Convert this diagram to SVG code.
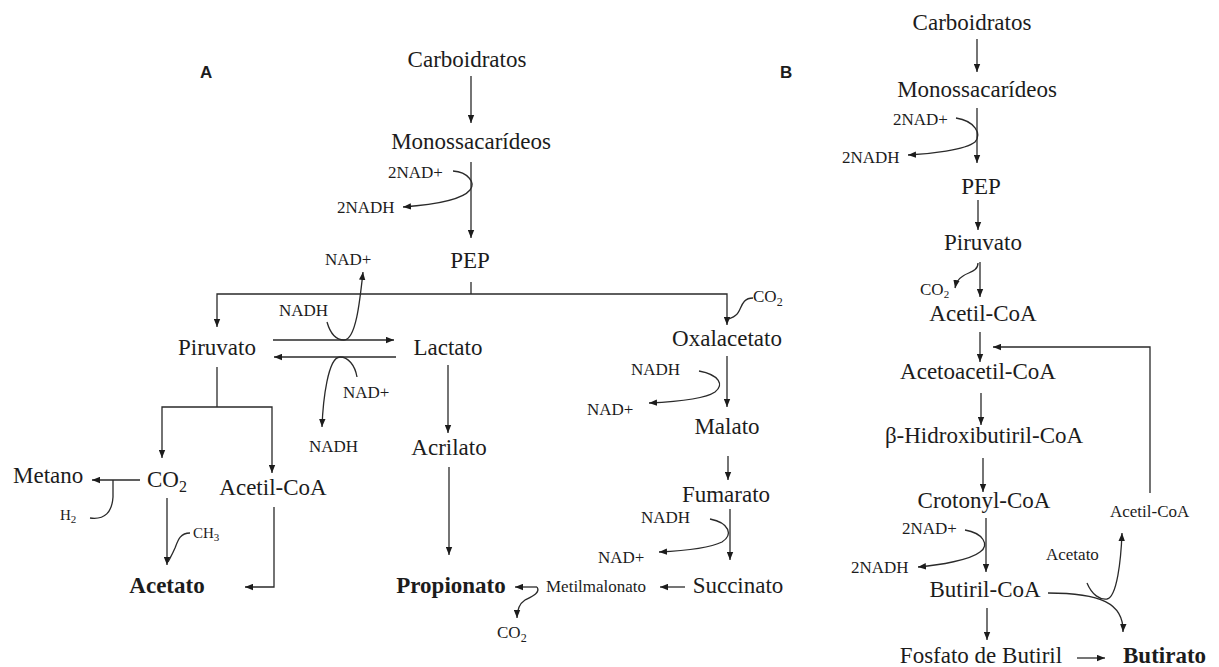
<svg xmlns="http://www.w3.org/2000/svg" width="1219" height="667" viewBox="0 0 1219 667">
<style>
text{font-family:"Liberation Serif","Times New Roman",serif;fill:#1c1c1c}
.m{font-size:23px}
.s{font-size:17px}
.xs{font-size:15px}
.b{font-weight:bold}
.c{text-anchor:middle}
.lab{font-family:"Liberation Sans",Arial,sans-serif;font-weight:bold;font-size:17px}
.ln{fill:none;stroke:#2a2a2a;stroke-width:1.3}
.ar{marker-end:url(#ah)}
</style>
<defs>
<marker id="ah" viewBox="0 0 10 8" refX="10" refY="4" markerWidth="8" markerHeight="7" markerUnits="userSpaceOnUse" orient="auto">
<path d="M0,0 L10,4 L0,8 z" fill="#1c1c1c"/>
</marker>
</defs>
<rect width="1219" height="667" fill="#ffffff"/>

<g id="connectors">
<!-- Panel A -->
<path class="ln ar" d="M471,76 V123"/>
<path class="ln ar" d="M471,162 V238"/>
<path class="ln ar" d="M453,171 C468,172 476,183 470,190 C462,200 430,205 403,207"/>
<path class="ln" d="M471,282 V294"/>
<path class="ln ar" d="M471,294 H217 V327"/>
<path class="ln ar" d="M471,294 H727 V325"/>
<path class="ln" d="M753,298 C740,298 742,311 736,315 C733,318 730,318 728,319"/>
<path class="ln ar" d="M727,356 V407"/>
<path class="ln ar" d="M699,371 C720,375 724,385 715,392 C705,399 670,402 649,403"/>
<path class="ln ar" d="M728,456 V480"/>
<path class="ln ar" d="M730,509 V560"/>
<path class="ln ar" d="M710,519 C730,523 733,535 722,542 C710,548 680,551 659,552"/>
<path class="ln ar" d="M685,587 H660"/>
<path class="ln ar" d="M537,587 H515"/>
<path class="ln ar" d="M537,587 C541,593 531,597 525,600 C519,604 517,610 517,618"/>
<path class="ln ar" d="M448,365 V433"/>
<path class="ln ar" d="M449,467 V555"/>
<path class="ln ar" d="M273,340 H394"/>
<path class="ln ar" d="M396,357 H274"/>
<path class="ln ar" d="M327,322 C331,336 338,340 344,340 C356,340 360,300 363,272"/>
<path class="ln ar" d="M357,377 C355,365 348,357 340,357 C328,357 323,400 322,427"/>
<path class="ln" d="M217,367 V407"/>
<path class="ln ar" d="M217,407 H162 V458"/>
<path class="ln ar" d="M217,407 H272 V473"/>
<path class="ln ar" d="M140,480 H92"/>
<path class="ln" d="M90,518 C105,520 112,512 113,497 L113,480"/>
<path class="ln ar" d="M167,498 V565"/>
<path class="ln" d="M190,533 C180,533 178,540 175,548 C172,555 170,558 168,562"/>
<path class="ln ar" d="M274,507 V587 H245"/>
<!-- Panel B -->
<path class="ln ar" d="M977,39 V72"/>
<path class="ln ar" d="M977,108 V163"/>
<path class="ln ar" d="M956,118 C975,121 982,134 975,142 C965,150 930,154 908,155"/>
<path class="ln ar" d="M978,200 V230"/>
<path class="ln ar" d="M980,262 V297"/>
<path class="ln ar" d="M978,263 C978,272 968,272 963,276 C958,279 956,283 955,288"/>
<path class="ln ar" d="M980,332 V362"/>
<path class="ln ar" d="M1150,493 V347 H993"/>
<path class="ln ar" d="M981,393 V425"/>
<path class="ln ar" d="M983,458 V492"/>
<path class="ln ar" d="M986,518 V572"/>
<path class="ln ar" d="M965,530 C983,533 990,545 980,552 C970,560 940,565 918,567"/>
<path class="ln ar" d="M987,608 V640"/>
<path class="ln ar" d="M1077,658 H1105"/>
<path class="ln ar" d="M1048,593 C1100,593 1124,603 1123,632"/>
<path class="ln ar" d="M1087,583 C1092,595 1100,600 1107,599 C1117,597 1121,560 1122,533"/>
</g>

<!-- Panel labels -->
<g id="label-A"><text class="lab" x="200" y="78">A</text></g>
<g id="label-B"><text class="lab" x="780" y="78">B</text></g>

<!-- Panel A nodes -->
<g id="a-carboidratos"><text class="m c" x="467" y="67">Carboidratos</text></g>
<g id="a-monossacarideos"><text class="m c" x="471" y="149">Monossacarídeos</text></g>
<g id="a-2nad"><text class="s" x="388" y="178">2NAD+</text></g>
<g id="a-2nadh"><text class="s" x="337" y="213">2NADH</text></g>
<g id="a-pep"><text class="m c" x="470" y="268">PEP</text></g>
<g id="a-nad-up"><text class="s" x="325" y="265">NAD+</text></g>
<g id="a-nadh-up"><text class="s" x="279" y="316">NADH</text></g>
<g id="a-piruvato"><text class="m c" x="217" y="355">Piruvato</text></g>
<g id="a-lactato"><text class="m c" x="448" y="355">Lactato</text></g>
<g id="a-nad-low"><text class="s" x="343" y="398">NAD+</text></g>
<g id="a-nadh-low"><text class="s" x="309" y="452">NADH</text></g>
<g id="a-acrilato"><text class="m c" x="449" y="455">Acrilato</text></g>
<g id="a-co2-oxal"><text class="s" x="753" y="302">CO<tspan font-size="12" dy="4">2</tspan></text></g>
<g id="a-oxalacetato"><text class="m c" x="727" y="346">Oxalacetato</text></g>
<g id="a-nadh-oxal"><text class="s" x="631" y="375">NADH</text></g>
<g id="a-nad-oxal"><text class="s" x="587" y="415">NAD+</text></g>
<g id="a-malato"><text class="m c" x="727" y="434">Malato</text></g>
<g id="a-fumarato"><text class="m c" x="726" y="502">Fumarato</text></g>
<g id="a-nadh-fum"><text class="s" x="641" y="523">NADH</text></g>
<g id="a-nad-fum"><text class="s" x="598" y="563">NAD+</text></g>
<g id="a-succinato"><text class="m c" x="738" y="593">Succinato</text></g>
<g id="a-metilmalonato"><text class="s" x="546" y="592">Metilmalonato</text></g>
<g id="a-propionato"><text class="m c b" x="451" y="593">Propionato</text></g>
<g id="a-co2-prop"><text class="s" x="497" y="638">CO<tspan font-size="12" dy="4">2</tspan></text></g>
<g id="a-metano"><text class="m" x="13" y="483">Metano</text></g>
<g id="a-co2"><text class="m" x="147" y="487">CO<tspan font-size="16" dy="5">2</tspan></text></g>
<g id="a-h2"><text class="xs" x="60" y="520">H<tspan font-size="11" dy="3">2</tspan></text></g>
<g id="a-ch3"><text class="xs" x="193" y="538">CH<tspan font-size="11" dy="3">3</tspan></text></g>
<g id="a-acetilcoa"><text class="m c" x="273" y="495">Acetil-CoA</text></g>
<g id="a-acetato"><text class="m c b" x="167" y="593">Acetato</text></g>

<!-- Panel B nodes -->
<g id="b-carboidratos"><text class="m c" x="972" y="30">Carboidratos</text></g>
<g id="b-monossacarideos"><text class="m c" x="977" y="97">Monossacarídeos</text></g>
<g id="b-2nad"><text class="s" x="893" y="125">2NAD+</text></g>
<g id="b-2nadh"><text class="s" x="842" y="163">2NADH</text></g>
<g id="b-pep"><text class="m c" x="981" y="194">PEP</text></g>
<g id="b-piruvato"><text class="m c" x="983" y="250">Piruvato</text></g>
<g id="b-co2"><text class="s" x="920" y="295">CO<tspan font-size="11" dy="3">2</tspan></text></g>
<g id="b-acetilcoa"><text class="m c" x="983" y="321">Acetil-CoA</text></g>
<g id="b-acetoacetilcoa"><text class="m c" x="978" y="379">Acetoacetil-CoA</text></g>
<g id="b-hidroxibutirilcoa"><text class="m c" x="984" y="443">β-Hidroxibutiril-CoA</text></g>
<g id="b-crotonylcoa"><text class="m c" x="984" y="508">Crotonyl-CoA</text></g>
<g id="b-2nad-2"><text class="s" x="902" y="534">2NAD+</text></g>
<g id="b-2nadh-2"><text class="s" x="851" y="573">2NADH</text></g>
<g id="b-butirilcoa"><text class="m c" x="985" y="597">Butiril-CoA</text></g>
<g id="b-fosfato"><text class="m c" x="981" y="663">Fosfato de Butiril</text></g>
<g id="b-butirato"><text class="m b" x="1123" y="663">Butirato</text></g>
<g id="b-acetilcoa-small"><text class="s" x="1110" y="517">Acetil-CoA</text></g>
<g id="b-acetato-small"><text class="s" x="1046" y="560">Acetato</text></g>
</svg>
